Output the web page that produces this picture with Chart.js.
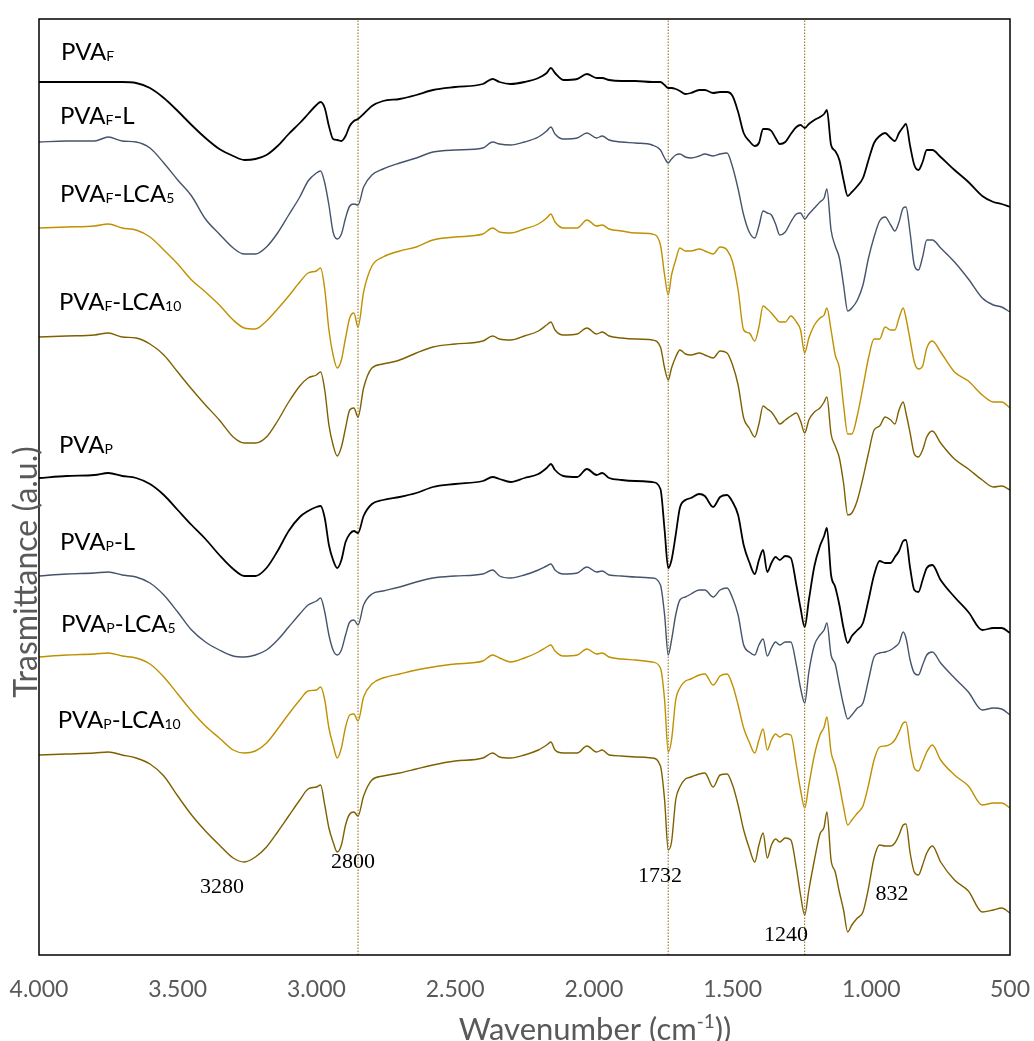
<!DOCTYPE html>
<html>
<head>
<meta charset="utf-8">
<title>FTIR spectra</title>
<script src="https://cdn.jsdelivr.net/npm/chart.js@4.4.1/dist/chart.umd.min.js"></script>
<style>
  html, body { margin: 0; padding: 0; background: #fff; }
  #wrap { width: 1034px; height: 1041px; position: relative; }
</style>
</head>
<body>
<div id="wrap"><canvas id="ftirChart"></canvas></div>
<script>
// wavenumber grid (cm-1) shared by every spectrum
const wavenumbers = [
  4000, 3900, 3800, 3750, 3700, 3650, 3600, 3550, 3500, 3450,
  3400, 3350, 3300, 3260, 3220, 3180, 3140, 3100, 3060, 3030,
  3000, 2985, 2970, 2955, 2940, 2925, 2910, 2895, 2880, 2865,
  2850, 2830, 2800, 2760, 2700, 2640, 2580, 2500, 2400, 2365,
  2340, 2300, 2250, 2200, 2170, 2155, 2140, 2110, 2060, 2025,
  1990, 1970, 1945, 1900, 1850, 1790, 1760, 1745, 1732, 1720,
  1705, 1690, 1670, 1650, 1620, 1600, 1570, 1545, 1520, 1500,
  1480, 1460, 1440, 1420, 1405, 1390, 1375, 1360, 1345, 1330,
  1310, 1290, 1270, 1255, 1240, 1225, 1205, 1185, 1170, 1160,
  1145, 1130, 1115, 1100, 1085, 1070, 1050, 1030, 1010, 990,
  970, 950, 930, 915, 900, 885, 875, 860, 845, 830,
  815, 800, 780, 750, 700, 650, 600, 560, 530, 500
];

// stacked transmittance, arbitrary units
const pvaF = [
  873, 873, 873, 873, 873, 872, 867, 857, 844, 830,
  817, 806, 799, 795, 796, 800, 809, 821, 832, 841,
  850, 853, 847, 829, 816, 815, 814, 819, 829, 834,
  836, 841, 849, 854, 856, 860, 865, 868, 871, 876,
  873, 871, 873, 877, 882, 887, 882, 875, 876, 881,
  877, 877, 875, 874, 874, 873, 873, 870, 867, 867,
  866, 864, 861, 862, 865, 865, 862, 863, 863, 859,
  843, 822, 814, 809, 812, 826, 826, 824, 817, 811,
  813, 821, 828, 830, 827, 831, 835, 838, 841, 845,
  810, 804, 795, 775, 759, 763, 769, 777, 795, 812,
  819, 822, 817, 814, 822, 828, 831, 809, 790, 785,
  793, 805, 805, 798, 785, 773, 759, 753, 751, 748
];
const pvaFL = [
  813, 814, 814, 818, 814, 813, 807, 792, 775, 759,
  736, 721, 707, 701, 701, 708, 722, 740, 758, 774,
  782, 784, 772, 750, 723, 716, 721, 737, 749, 751,
  750, 768, 780, 786, 792, 797, 803, 805, 807, 813,
  811, 810, 813, 818, 824, 828, 821, 816, 817, 822,
  817, 819, 815, 813, 812, 810, 805, 797, 792, 796,
  800, 801, 798, 797, 799, 801, 799, 801, 802, 788,
  766, 740, 723, 717, 729, 744, 742, 740, 731, 720,
  723, 733, 741, 742, 736, 741, 747, 753, 757, 766,
  725, 709, 697, 670, 644, 647, 655, 670, 697, 718,
  734, 738, 730, 724, 733, 747, 748, 722, 690, 685,
  698, 715, 715, 707, 693, 676, 657, 650, 648, 643
];
const pvaFLCA5 = [
  727, 728, 729, 731, 727, 725, 718, 705, 691, 675,
  663, 650, 635, 627, 626, 634, 646, 659, 673, 682,
  684, 687, 666, 625, 600, 587, 595, 617, 637, 642,
  628, 663, 689, 698, 704, 708, 715, 718, 721, 727,
  723, 722, 726, 731, 737, 741, 733, 727, 727, 735,
  729, 730, 726, 724, 722, 721, 710, 680, 660, 680,
  695, 707, 704, 704, 706, 704, 701, 708, 705, 693,
  665, 625, 622, 614, 628, 649, 646, 642, 637, 633,
  633, 639, 633, 625, 602, 617, 630, 637, 640, 647,
  625, 600, 587, 550, 521, 521, 540, 568, 597, 616,
  616, 628, 625, 625, 637, 647, 637, 615, 593, 586,
  589, 607, 614, 603, 583, 574, 560, 553, 553, 547
];
const pvaFLCA10 = [
  618, 619, 620, 622, 618, 617, 611, 600, 583, 566,
  550, 535, 518, 512, 512, 518, 534, 553, 569, 577,
  580, 583, 565, 530, 510, 499, 508, 527, 545, 547,
  538, 567, 587, 591, 595, 602, 608, 611, 614, 619,
  616, 615, 619, 624, 630, 633, 625, 620, 621, 627,
  621, 623, 619, 617, 616, 615, 608, 587, 575, 587,
  598, 605, 601, 600, 602, 600, 597, 604, 602, 590,
  570, 537, 527, 518, 531, 549, 546, 543, 537, 531,
  535, 539, 542, 534, 522, 535, 543, 547, 553, 558,
  521, 509, 497, 472, 440, 442, 455, 477, 502, 525,
  529, 538, 535, 531, 545, 553, 542, 522, 501, 498,
  505, 518, 524, 512, 496, 486, 475, 468, 469, 465
];
const pvaP = [
  477, 479, 480, 482, 479, 477, 471, 460, 445, 430,
  416, 400, 386, 379, 379, 387, 404, 424, 438, 444,
  448, 449, 437, 410, 395, 387, 395, 413, 421, 424,
  422, 439, 451, 455, 458, 462, 468, 471, 474, 478,
  476, 473, 477, 481, 487, 491, 485, 479, 478, 486,
  480, 482, 477, 475, 474, 473, 466, 425, 387, 395,
  420, 447, 455, 457, 461, 459, 448, 458, 460, 453,
  440, 410, 393, 381, 395, 405, 383, 392, 398, 395,
  399, 397, 370, 347, 328, 355, 389, 409, 419, 427,
  380, 368, 350, 327, 312, 319, 325, 332, 355, 380,
  394, 392, 392, 398, 404, 414, 415, 387, 365, 363,
  375, 387, 390, 375, 358, 343, 325, 327, 327, 322
];
const pvaPL = [
  379, 381, 382, 383, 380, 378, 372, 360, 343, 325,
  313, 305, 299, 298, 300, 305, 315, 328, 341, 350,
  354, 357, 343, 320, 305, 300, 305, 320, 333, 335,
  330, 350, 361, 364, 368, 373, 377, 379, 381, 385,
  379, 377, 380, 385, 389, 391, 385, 381, 382, 388,
  383, 384, 380, 379, 378, 377, 370, 340, 300, 315,
  340, 355, 358, 361, 365, 365, 358, 365, 367, 357,
  340, 310, 303, 300, 310, 316, 299, 307, 313, 310,
  313, 313, 290, 267, 252, 283, 310, 320, 325, 332,
  300, 291, 270, 250, 236, 240, 247, 252, 275, 298,
  302, 303, 305, 308, 312, 323, 317, 295, 282, 280,
  290, 300, 303, 292, 277, 263, 245, 247, 246, 240
];
const pvaPLCA5 = [
  298, 300, 301, 302, 299, 297, 291, 278, 261, 244,
  229, 217, 205, 202, 204, 212, 226, 241, 255, 264,
  265, 268, 255, 227, 210, 197, 207, 228, 240, 241,
  234, 258, 271, 277, 281, 285, 288, 291, 294, 300,
  297, 293, 297, 303, 308, 310, 304, 299, 300, 306,
  301, 302, 298, 296, 295, 293, 287, 255, 203, 215,
  255, 267, 274, 276, 280, 281, 270, 279, 281, 270,
  250, 227, 213, 202, 215, 226, 205, 215, 221, 218,
  221, 220, 190, 165, 147, 170, 200, 220, 228, 238,
  203, 189, 170, 148, 130, 135, 142, 149, 170, 195,
  208, 209, 211, 215, 223, 232, 233, 207, 187, 184,
  193, 203, 210, 195, 180, 169, 150, 152, 152, 147
];
const pvaPLCA10 = [
  200, 201, 202, 203, 200, 197, 191, 179, 159, 140,
  124, 110, 97, 93, 98, 108, 123, 139, 155, 166,
  168, 170, 150, 127, 113, 103, 110, 130, 141, 143,
  139, 159, 175, 179, 182, 186, 190, 194, 197, 202,
  198, 197, 200, 205, 210, 213, 205, 202, 202, 209,
  203, 205, 200, 199, 198, 197, 189, 155, 105, 113,
  155, 168, 176, 178, 181, 182, 168, 180, 181, 170,
  150, 125, 107, 93, 110, 122, 97, 110, 116, 113,
  117, 115, 87, 60, 40, 65, 95, 121, 128, 143,
  95, 83, 63, 45, 23, 30, 37, 43, 67, 97,
  110, 109, 109, 112, 120, 130, 131, 102, 83, 80,
  90, 102, 109, 93, 75, 64, 43, 45, 47, 42
];

const spectra = [pvaF, pvaFL, pvaFLCA5, pvaFLCA10, pvaP, pvaPL, pvaPLCA5, pvaPLCA10];
// names use {..} for subscripts
const sampleNames = ['PVA{F}', 'PVA{F}-L', 'PVA{F}-LCA{5}', 'PVA{F}-LCA{10}',
                     'PVA{P}', 'PVA{P}-L', 'PVA{P}-LCA{5}', 'PVA{P}-LCA{10}'];
const sampleColors = ['#000000', '#44546A', '#BF9000', '#7F6000',
                      '#000000', '#44546A', '#BF9000', '#7F6000'];
const nameWn = [3921, 3924, 3924, 3928, 3928, 3924, 3921, 3932];
const nameT = [895, 831, 753, 645, 502, 405, 323, 227];

// reference bands marked with dotted lines
const bandLines = [2850, 1732, 1240];
const peakLabels = ['3280', '2800', '1732', '1240', '832'];
const peakWn = [3340, 2868, 1762, 1307, 925];
const peakT = [68, 93, 79, 20, 61];

const tickValues = [4000, 3500, 3000, 2500, 2000, 1500, 1000, 500];
const tickLabels = ['4.000', '3.500', '3.000', '2.500', '2.000', '1.500', '1.000', '500'];

const T_MAX = 936;

const datasets = spectra.map((vals, i) => ({
  label: sampleNames[i].replace(/[{}]/g, ''),
  data: wavenumbers.map((w, j) => ({ x: w, y: vals[j] })),
  borderColor: sampleColors[i],
  borderWidth: sampleColors[i] === '#000000' ? 1.8 : 1.4,
  pointRadius: 0,
  fill: false,
  cubicInterpolationMode: 'monotone',
}));

bandLines.forEach(w => {
  datasets.push({
    label: 'band ' + w,
    data: [{ x: w, y: 0 }, { x: w, y: T_MAX }],
    borderColor: '#8a6a14',
    borderWidth: 1,
    borderDash: [1.5, 1.5],
    pointRadius: 0,
    fill: false,
  });
});

// draw a label where {..} parts are subscripts
function drawSubText(ctx, text, x, y, size, subSize) {
  const parts = text.split(/(\{[^}]*\})/).filter(p => p.length);
  let cx = x;
  parts.forEach(p => {
    const sub = p.startsWith('{');
    const t = sub ? p.slice(1, -1) : p;
    ctx.font = (sub ? subSize : size) + 'px Lato';
    ctx.fillText(t, cx, y + (sub ? 1 : 0));
    cx += ctx.measureText(t).width;
  });
}

const annotations = {
  id: 'annotations',
  afterDraw(chart) {
    const { ctx, chartArea, scales: { x, y } } = chart;
    ctx.save();

    // frame round the plot
    ctx.strokeStyle = '#000';
    ctx.lineWidth = 1.5;
    ctx.strokeRect(chartArea.left, chartArea.top, chartArea.right - chartArea.left, chartArea.bottom - chartArea.top);

    // sample names
    ctx.fillStyle = '#000';
    ctx.textAlign = 'left';
    ctx.textBaseline = 'alphabetic';
    sampleNames.forEach((n, i) => {
      drawSubText(ctx, n, x.getPixelForValue(nameWn[i]), y.getPixelForValue(nameT[i]), 24, 14);
    });

    // band positions
    ctx.font = '22px "Liberation Serif"';
    ctx.textAlign = 'center';
    ctx.textBaseline = 'middle';
    peakLabels.forEach((t, i) => {
      ctx.fillText(t, x.getPixelForValue(peakWn[i]), y.getPixelForValue(peakT[i]));
    });

    // axis titles
    ctx.fillStyle = '#595959';
    ctx.textBaseline = 'alphabetic';
    ctx.save();
    ctx.translate(37, 572);
    ctx.rotate(-Math.PI / 2);
    ctx.font = '32px Lato';
    ctx.textAlign = 'center';
    ctx.fillText('Trasmittance (a.u.)', 0, 0);
    ctx.restore();

    const base = 'Wavenumber (cm';
    const sup = '-1';
    const tail = '))';
    ctx.font = '31px Lato';
    const wBase = ctx.measureText(base).width;
    const wTail = ctx.measureText(tail).width;
    ctx.font = '19px Lato';
    const wSup = ctx.measureText(sup).width;
    let tx = 595 - (wBase + wSup + wTail) / 2;
    const ty = 1040;
    ctx.textAlign = 'left';
    ctx.font = '31px Lato';
    ctx.fillText(base, tx, ty);
    tx += wBase;
    ctx.font = '19px Lato';
    ctx.fillText(sup, tx, ty - 12);
    tx += wSup;
    ctx.font = '31px Lato';
    ctx.fillText(tail, tx, ty);

    ctx.restore();
  }
};

new Chart(document.getElementById('ftirChart'), {
  type: 'line',
  data: { datasets },
  options: {
    responsive: true,
    maintainAspectRatio: false,
    animation: false,
    layout: { padding: { left: 39, right: 24, top: 19, bottom: 0 } },
    plugins: {
      legend: { display: false },
      tooltip: { enabled: false },
    },
    scales: {
      x: {
        type: 'linear',
        reverse: true,
        min: 500,
        max: 4000,
        afterBuildTicks: scale => { scale.ticks = tickValues.map(v => ({ value: v })); },
        afterFit: scale => {
          scale.height = 86;
          scale.paddingLeft = 0;
          scale.paddingRight = 0;
        },
        grid: { display: false, drawTicks: false },
        border: { display: false },
        ticks: {
          padding: 21,
          color: '#595959',
          font: { family: 'Lato', size: 23 },
          maxRotation: 0,
          autoSkip: false,
          callback: v => tickLabels[tickValues.indexOf(v)],
        },
      },
      y: {
        display: false,
        min: 0,
        max: T_MAX,
      },
    },
  },
  plugins: [annotations],
});
</script>
</body>
</html>
